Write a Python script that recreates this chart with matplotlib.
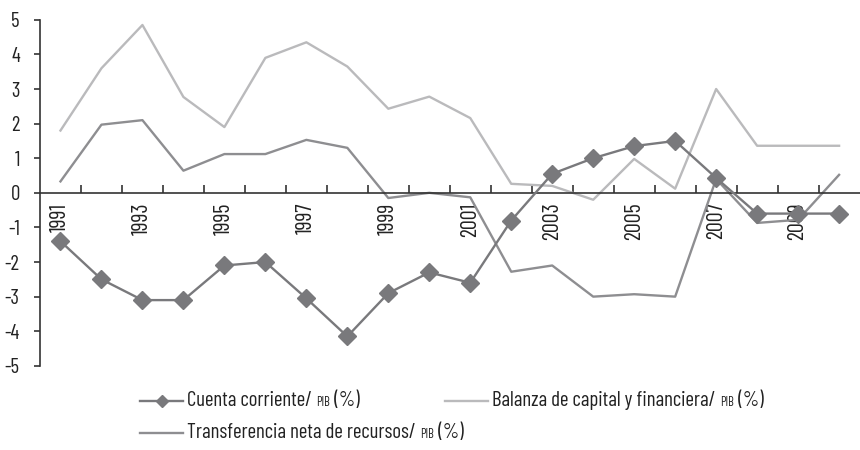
import matplotlib
matplotlib.use('Agg')
import matplotlib.pyplot as plt
from matplotlib import font_manager
from matplotlib.lines import Line2D
from matplotlib.offsetbox import TextArea, DrawingArea, HPacker, AnchoredOffsetbox

# datos
anios = list(range(1991, 2011))
cuenta_corriente = [-1.4, -2.5, -3.1, -3.1, -2.1, -2.0, -3.05, -4.15, -2.9, -2.3,
                    -2.6, -0.8, 0.55, 1.0, 1.35, 1.5, 0.43, -0.6, -0.6, -0.6]
balanza_capital = [1.8, 3.6, 4.85, 2.77, 1.9, 3.9, 4.35, 3.65, 2.43, 2.78,
                   2.16, 0.26, 0.2, -0.2, 0.98, 0.12, 3.0, 1.36, 1.36, 1.36]
transferencia_neta = [0.33, 1.97, 2.1, 0.64, 1.12, 1.12, 1.53, 1.3, -0.15, 0.0,
                      -0.13, -2.28, -2.1, -3.0, -2.93, -3.0, 0.4, -0.87, -0.78, 0.52]
etiquetas_y = [5, 4, 3, 2, 1, 0, -1, -2, -3, -4, -5]

c_cuenta = '#79797c'
c_balanza = '#bababc'
c_transf = '#8e8e91'

# fuente estrecha parecida a la del original
nombres = {f.name for f in font_manager.fontManager.ttflist}
fuente = 'DejaVu Sans'
for cand in ['Barlow Condensed', 'Archivo Narrow', 'Asap Condensed', 'Roboto']:
    if cand in nombres:
        fuente = cand
        break
plt.rcParams['font.family'] = [fuente, 'DejaVu Sans']

fig = plt.figure(figsize=(8.6, 4.5), dpi=100)
ax = fig.add_axes([0.0465, 0.187, 0.953, 0.769])

x = list(range(len(anios)))
ax.plot(x, cuenta_corriente, color=c_cuenta, lw=1.7, marker='D', ms=9.5, zorder=3)
ax.plot(x, balanza_capital, color=c_balanza, lw=1.7, zorder=2)
ax.plot(x, transferencia_neta, color=c_transf, lw=1.7, zorder=2)

ax.set_xlim(-0.5, len(anios) - 0.5)
ax.set_ylim(-5, 5)
ax.set_yticks(etiquetas_y)
ax.set_yticklabels([str(v) for v in etiquetas_y], fontsize=15, color='#222222')

for s in ['top', 'right']:
    ax.spines[s].set_visible(False)
ax.spines['bottom'].set_position(('data', 0))
for s in ['left', 'bottom']:
    ax.spines[s].set_color('#333333')
    ax.spines[s].set_linewidth(1.2)

# ticks entre categorias, etiquetas solo en anios impares
ax.set_xticks([i + 0.5 for i in x[:-1]], minor=True)
ax.set_xticks(x[::2])
ax.set_xticklabels([str(a) for a in anios[::2]], rotation=90, fontsize=16,
                   va='top', color='#222222')
ax.tick_params(axis='x', which='major', length=0, pad=7)
ax.tick_params(axis='x', which='minor', direction='in', length=5.5, width=1.2, color='#333333')
ax.tick_params(axis='y', direction='out', length=4.5, width=1.2, color='#333333', pad=10)


# leyenda hecha a mano para poder poner "PIB" en letra pequenia
def elemento(texto, color, marcador):
    da = DrawingArea(31, 9, 0, 0)
    da.add_artist(Line2D([0, 31], [4.5, 4.5], color=color, lw=1.7))
    if marcador:
        da.add_artist(Line2D([15.5], [4.5], color=color, marker='D', ms=6.5, lw=0))
    tp = dict(size=15, color='#222222')
    partes = HPacker(children=[TextArea(texto, textprops=tp),
                               TextArea('PIB', textprops=dict(size=9, color='#222222')),
                               TextArea(' (%)', textprops=tp)],
                     align='baseline', pad=0, sep=0)
    return HPacker(children=[da, partes], align='center', pad=0, sep=3)


items = [
    ('Cuenta corriente/ ', c_cuenta, True, 140 / 860, 1 - 401 / 450),
    ('Balanza de capital y financiera/ ', c_balanza, False, 445 / 860, 1 - 401 / 450),
    ('Transferencia neta de recursos/ ', c_transf, False, 140 / 860, 1 - 433 / 450),
]
for texto, color, marcador, px, py in items:
    caja = AnchoredOffsetbox(loc='center left', child=elemento(texto, color, marcador),
                             pad=0, borderpad=0, frameon=False,
                             bbox_to_anchor=(px, py), bbox_transform=fig.transFigure)
    fig.add_artist(caja)

fig.savefig('out.png', dpi=100)
